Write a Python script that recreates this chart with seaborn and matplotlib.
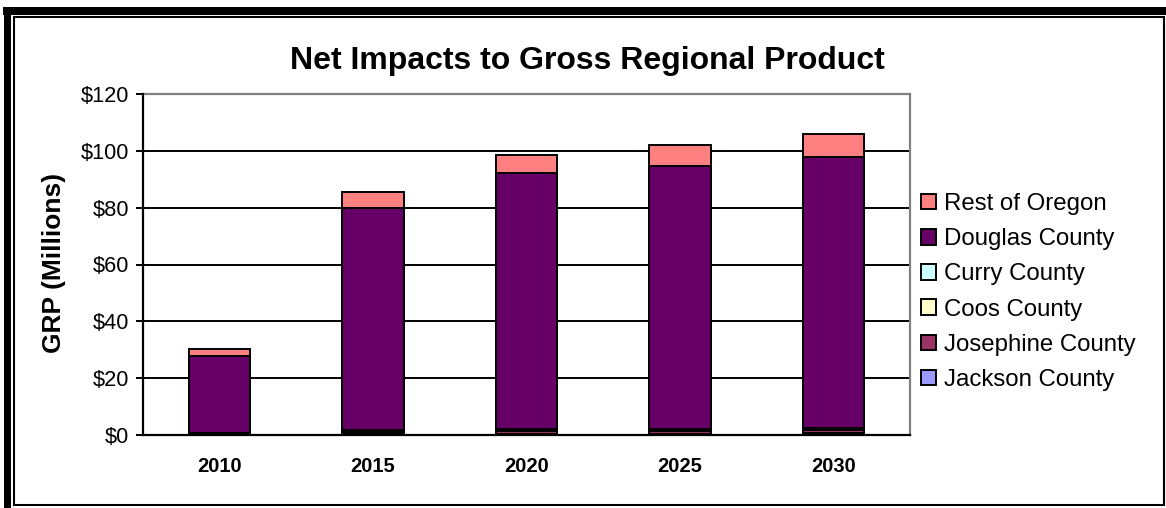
import numpy as np
import pandas as pd
import matplotlib
matplotlib.use("Agg")
import matplotlib.pyplot as plt
from matplotlib.patches import Patch, Rectangle
import seaborn as sns

# GRP impacts by region, $ millions
years = ["2010", "2015", "2020", "2025", "2030"]
jackson = [0.2, 0.4, 0.5, 0.5, 0.6]
josephine = [0.3, 0.7, 0.8, 0.8, 1.0]
coos = [0.2, 0.4, 0.4, 0.4, 0.5]
curry = [0.1, 0.3, 0.3, 0.3, 0.3]
douglas = [27.0, 78.2, 90.3, 92.8, 95.6]
rest_of_oregon = [2.4, 5.5, 6.2, 7.1, 7.9]

series_names = ["Jackson County", "Josephine County", "Coos County",
                "Curry County", "Douglas County", "Rest of Oregon"]
series_values = [jackson, josephine, coos, curry, douglas, rest_of_oregon]
series_colors = ["#9999FF", "#993366", "#FFFFCC", "#CCFFFF", "#660066", "#FF8080"]
y_ticks = [0, 20, 40, 60, 80, 100, 120]

sns.set_style("white")
plt.rcParams["font.family"] = ["Liberation Sans", "DejaVu Sans"]
plt.rcParams.update({"text.color": "black", "axes.labelcolor": "black",
                     "xtick.color": "black", "ytick.color": "black"})

W, H = 1166, 508
fig = plt.figure(figsize=(W / 100, H / 100), dpi=100)
ax = fig.add_axes([143 / W, 1 - 435 / H, (910 - 143) / W, (435 - 94) / H])

# stacked bars: draw cumulative totals from the top layer down
df = pd.DataFrame({name: vals for name, vals in zip(series_names, series_values)})
df["Year"] = years
cum = df[series_names].cumsum(axis=1)
for name, color in reversed(list(zip(series_names, series_colors))):
    sns.barplot(x=df["Year"], y=cum[name], color=color, width=0.4,
                edgecolor="black", linewidth=1.4, ax=ax, order=years,
                zorder=3, saturation=1)

ax.set_xlim(-0.5, len(years) - 0.5)
ax.set_ylim(0, 120)
ax.set_yticks(y_ticks)
ax.set_yticklabels([f"${v}" for v in y_ticks], fontsize=15.7)
for v in y_ticks[1:-1]:
    ax.axhline(v, color="black", linewidth=1.4, zorder=1)

ax.set_xticks(range(len(years)))
ax.set_xticklabels(years, fontsize=14.5, fontweight="bold")
ax.set_xticks(np.arange(-0.5, len(years)), minor=True)
ax.tick_params(axis="x", which="major", length=0, pad=16)
ax.tick_params(axis="x", which="minor", length=6, width=1.4, direction="out",
               color="black")
ax.tick_params(axis="y", length=5, width=1.4, direction="out", color="black",
               pad=5, left=True)
ax.set_xlabel("")
ax.set_ylabel("")

for side in ["left", "bottom"]:
    ax.spines[side].set_color("black")
    ax.spines[side].set_linewidth(1.6)
for side in ["top", "right"]:
    ax.spines[side].set_color("#808080")
    ax.spines[side].set_linewidth(1.6)
    ax.spines[side].set_visible(True)
ax.spines["left"].set_zorder(5)
ax.spines["bottom"].set_zorder(5)

fig.text(54 / W, 1 - 263 / H, "GRP (Millions)", rotation=90, ha="center",
         va="center", fontsize=19, fontweight="bold")
fig.text(587 / W, 1 - 61 / H, "Net Impacts to Gross Regional Product",
         ha="center", va="center", fontsize=23, fontweight="bold")

handles = [Patch(facecolor=c, edgecolor="black", linewidth=1.4, label=n)
           for n, c in zip(series_names, series_colors)]
leg = fig.legend(handles=handles[::-1], loc="upper left",
                 bbox_to_anchor=(921 / W, 1 - 193 / H), frameon=False,
                 fontsize=17.3, handlelength=0.62, handleheight=0.62,
                 handletextpad=0.32, labelspacing=0.55, borderaxespad=0,
                 borderpad=0)

# outer frame
fig.patches.append(Rectangle((14 / W, 1 - 505 / H), (1164 - 14) / W, (505 - 17) / H,
                             transform=fig.transFigure, fill=False,
                             edgecolor="black", linewidth=1.5))
fig.patches.append(Rectangle((3 / W, 1 - 15 / H), (W - 3) / W, 8 / H,
                             transform=fig.transFigure, facecolor="black",
                             edgecolor="none"))
fig.patches.append(Rectangle((4 / W, 0), 7 / W, 1 - 7 / H,
                             transform=fig.transFigure, facecolor="black",
                             edgecolor="none"))

fig.savefig("out.png", dpi=100)
